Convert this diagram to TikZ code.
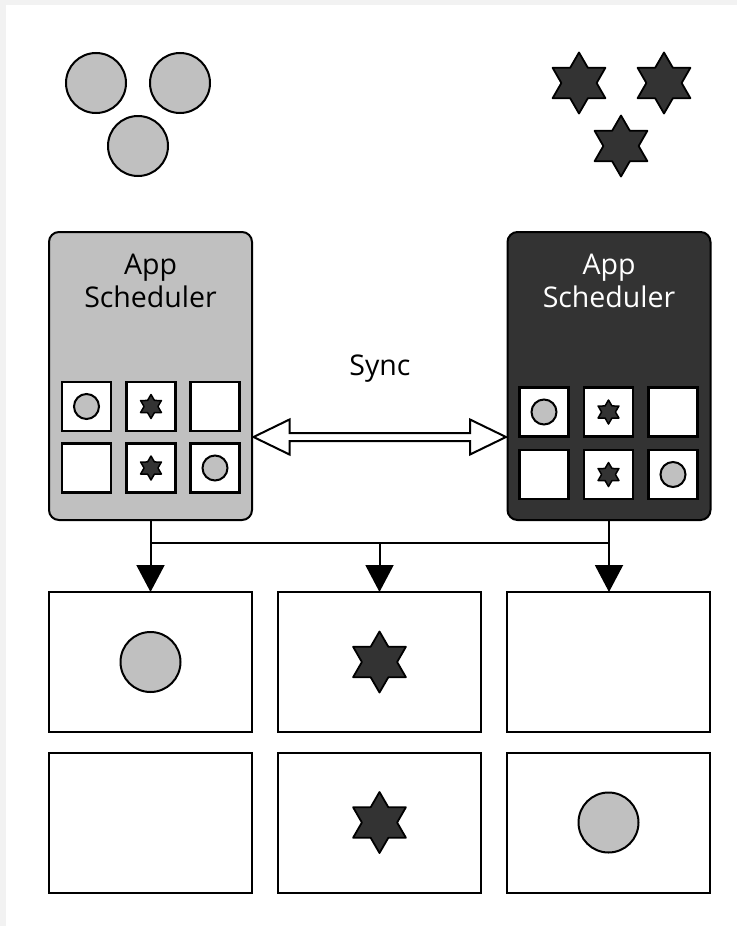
\documentclass[tikz,border=0pt]{standalone}
\usepackage{fontspec}
\setmainfont{Open Sans}
\usetikzlibrary{shapes.geometric,arrows.meta,calc}
\definecolor{lightfill}{HTML}{C0C0C0}
\definecolor{darkfill}{HTML}{333333}
\definecolor{framegray}{HTML}{F2F2F2}
\begin{document}
\begin{tikzpicture}[x=1pt,y=-1pt,
  every node/.style={inner sep=0pt, outer sep=0pt},
  disc/.style={circle, draw=black, fill=lightfill, line width=2pt, minimum size=#1},
  hexstar/.style={star, star points=6, star point ratio=1.73, draw=black, fill=darkfill, line width=1.8pt, line join=round, minimum size=#1},
  slot/.style={rectangle, draw=black, fill=white, line width=2.5pt, minimum width=49pt, minimum height=49pt},
  sched/.style={rectangle, rounded corners=10pt, draw=black, line width=2pt, minimum width=203pt, minimum height=288pt},
  worker/.style={rectangle, draw=black, fill=white, line width=2pt, minimum width=203pt, minimum height=140pt},
  schedtext/.style={font=\fontsize{28.5}{33}\selectfont, align=center, anchor=north},
  feed/.style={line width=2pt, -{Triangle[length=27pt,width=28pt]}},
]
% canvas with a thin grey frame on the top and left
\fill[framegray] (0,0) rectangle (737,926);
\fill[white] (6,5) rectangle (737,926);
\useasboundingbox (0,0) rectangle (737,926);

% pool of circle jobs and star jobs
\node[disc=60pt] (c1) at (96,83) {};
\node[disc=60pt] (c2) at (180,83) {};
\node[disc=60pt] (c3) at (138,146) {};
\node[hexstar=61pt] (s1) at (579,83) {};
\node[hexstar=61pt] (s2) at (664,83) {};
\node[hexstar=61pt] (s3) at (621,146) {};

% the two schedulers
\node[sched, fill=lightfill] (lsch) at (150.5,376) {};
\node[sched, fill=darkfill] (rsch) at (609,376) {};
\node[schedtext] (ltext) at (150.5,254) {App\\Scheduler};
\node[schedtext, text=white] (rtext) at (609,254) {App\\Scheduler};

% slot tables inside the schedulers
\foreach \side/\xa/\xb/\xc/\ya/\yb in {l/86.5/151/215/406.5/468, r/544/608.5/673/412/474.5} {
  \node[slot] (\side11) at (\xa,\ya) {};
  \node[slot] (\side12) at (\xb,\ya) {};
  \node[slot] (\side13) at (\xc,\ya) {};
  \node[slot] (\side21) at (\xa,\yb) {};
  \node[slot] (\side22) at (\xb,\yb) {};
  \node[slot] (\side23) at (\xc,\yb) {};
  \node[disc=25pt] (\side c11) at (\side11) {};
  \node[hexstar=24pt, line width=1.5pt] (\side s12) at (\side12) {};
  \node[hexstar=24pt, line width=1.5pt] (\side s22) at (\side22) {};
  \node[disc=25pt] (\side c23) at (\side23) {};
}

% synchronisation between the schedulers
\node[font=\fontsize{28.5}{33}\selectfont, anchor=base] (sync) at (380,375) {Sync};
\coordinate (syncL) at ($(lsch.east |- 0,437)+(1.5,0)$);
\coordinate (syncR) at ($(rsch.west |- 0,437)+(-1.5,0)$);
\draw[line width=2pt, fill=white]
  (syncL) -- ($(syncL)+(36,-17.5)$) -- ($(syncL)+(36,-4)$)
  -- ($(syncR)+(-36,-4)$) -- ($(syncR)+(-36,-17.5)$) -- (syncR)
  -- ($(syncR)+(-36,17.5)$) -- ($(syncR)+(-36,4)$)
  -- ($(syncL)+(36,4)$) -- ($(syncL)+(36,17.5)$) -- cycle;

% worker grid
\node[worker] (w1) at (150.5,662) {};
\node[worker] (w2) at (379.5,662) {};
\node[worker] (w3) at (608.5,662) {};
\node[worker] (w4) at (150.5,822.5) {};
\node[worker] (w5) at (379.5,822.5) {};
\node[worker] (w6) at (608.5,822.5) {};
\node[disc=60pt] (wc1) at (w1) {};
\node[hexstar=61pt] (ws2) at (w2) {};
\node[hexstar=61pt] (ws5) at (w5) {};
\node[disc=60pt] (wc6) at (w6) {};

% dispatch lines
\coordinate (bus) at (0,543);
\draw[line width=2pt] (lsch.south |- bus) -- (rsch.south |- bus);
\draw[feed] (lsch.south) -- (w1.north);
\draw[feed] (rsch.south) -- (rsch.south |- w3.north);
\draw[feed] (w2.north |- bus) -- (w2.north);
\end{tikzpicture}
\end{document}
